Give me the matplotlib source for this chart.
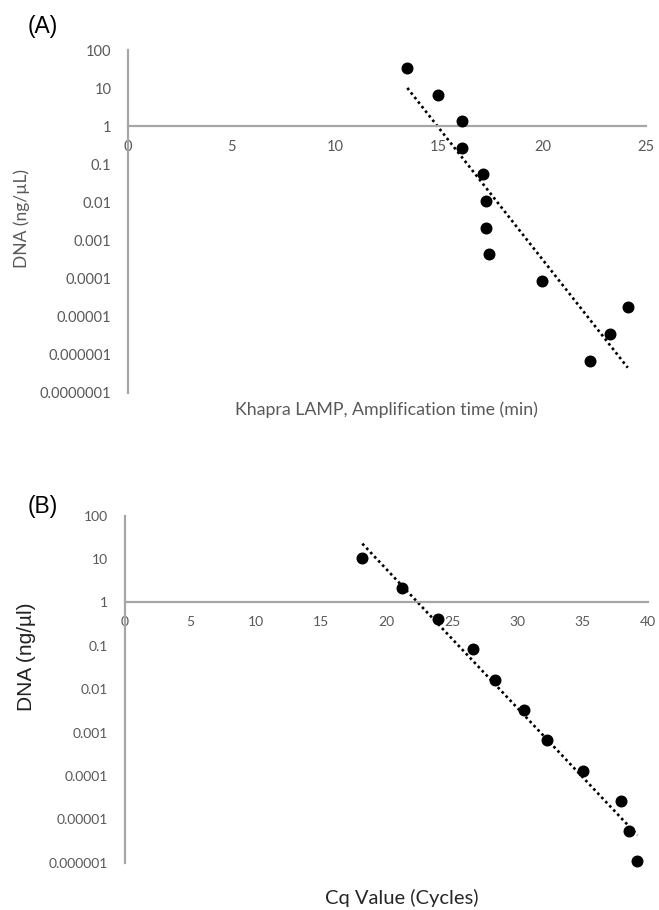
import numpy as np
import matplotlib.pyplot as plt
from matplotlib.ticker import FixedLocator, FixedFormatter

# panel A: Khapra LAMP amplification time vs DNA
lamp_time = [13.48, 14.98, 16.13, 16.13, 17.13, 17.26, 17.26, 17.42, 19.96, 24.12, 23.28, 22.28]
lamp_dna = [34, 6.7, 1.37, 0.27, 0.055, 0.011, 0.0022, 0.00044, 0.000087, 0.0000177, 0.0000035, 0.0000007]

# panel B: qPCR Cq vs DNA
cq_value = [18.14, 21.18, 23.96, 26.6, 28.26, 30.53, 32.24, 35.0, 37.9, 38.53, 39.17]
cq_dna = [10.5, 2.1, 0.41, 0.083, 0.0166, 0.0033, 0.00066, 0.000129, 0.0000263, 0.0000054, 0.00000107]

yticks_a = [1e2, 1e1, 1, 1e-1, 1e-2, 1e-3, 1e-4, 1e-5, 1e-6, 1e-7]
ylabels_a = ['100', '10', '1', '0.1', '0.01', '0.001', '0.0001', '0.00001', '0.000001', '0.0000001']
yticks_b = yticks_a[:-1]
ylabels_b = ylabels_a[:-1]
xticks_a = [0, 5, 10, 15, 20, 25]
xticks_b = [0, 5, 10, 15, 20, 25, 30, 35, 40]

AXIS_GRAY = '#a6a6a6'
TEXT_GRAY = '#595959'
TICK_FONT = 'Lato'


def setup_axis(ax, xticks, yticks, ylabels, tick_size):
    ax.set_yscale('log')
    ax.set_xlim(xticks[0], xticks[-1])
    ax.set_ylim(yticks[-1], yticks[0])
    for side in ['top', 'right']:
        ax.spines[side].set_visible(False)
    ax.spines['left'].set_position(('data', 0))
    ax.spines['bottom'].set_position(('data', 1))
    for side in ['left', 'bottom']:
        ax.spines[side].set_color(AXIS_GRAY)
        ax.spines[side].set_linewidth(1.6)
    ax.yaxis.set_major_locator(FixedLocator(yticks))
    ax.yaxis.set_major_formatter(FixedFormatter(ylabels))
    ax.yaxis.set_minor_locator(FixedLocator([]))
    ax.set_xticks(xticks)
    ax.set_xticklabels([str(t) for t in xticks])
    ax.tick_params(axis='both', length=0, labelcolor=TEXT_GRAY, labelsize=tick_size)
    ax.tick_params(axis='x', pad=10)
    ax.tick_params(axis='y', pad=12)
    for lab in ax.get_xticklabels() + ax.get_yticklabels():
        lab.set_fontfamily(TICK_FONT)
    ax.patch.set_visible(False)


def draw_points(ax, x, y):
    x = np.array(x)
    y = np.array(y)
    ax.scatter(x, y, s=58, color='black', zorder=3, clip_on=False)
    # exponential trendline, as Excel draws it
    coef = np.polyfit(x, np.log10(y), 1)
    xf = np.array([x.min(), x.max()])
    ax.plot(xf, 10 ** np.polyval(coef, xf), color='black', linestyle=(0, (1, 1.2)),
            linewidth=1.9, zorder=2, clip_on=False)


fig = plt.figure(figsize=(6.59, 9.10), dpi=100)

ax_a = fig.add_axes([128 / 659, 1 - 393 / 910, (646 - 128) / 659, 343 / 910])
setup_axis(ax_a, xticks_a, yticks_a, ylabels_a, 10.5)
draw_points(ax_a, lamp_time, lamp_dna)
fig.text(22 / 659, 1 - 219 / 910, 'DNA (ng/µL)', rotation=90, ha='center', va='center',
         color=TEXT_GRAY, fontsize=12.5, family=TICK_FONT)
fig.text(386 / 659, 1 - 410 / 910, 'Khapra LAMP, Amplification time (min)', ha='center', va='center',
         color=TEXT_GRAY, fontsize=12.8, family=TICK_FONT)
fig.text(43 / 659, 1 - 27 / 910, '(A)', ha='center', va='center', fontsize=16.5,
         family='Liberation Sans', color='black')

ax_b = fig.add_axes([125 / 659, 1 - 862.7 / 910, (648.3 - 125) / 659, 347 / 910])
setup_axis(ax_b, xticks_b, yticks_b, ylabels_b, 10)
draw_points(ax_b, cq_value, cq_dna)
fig.text(27 / 659, 1 - 657 / 910, 'DNA (ng/µl)', rotation=90, ha='center', va='center',
         color='#222222', fontsize=15, family='Liberation Sans')
fig.text(402 / 659, 1 - 898 / 910, 'Cq Value (Cycles)', ha='center', va='center',
         color='#262626', fontsize=14.5, family=TICK_FONT)
fig.text(43 / 659, 1 - 507 / 910, '(B)', ha='center', va='center', fontsize=16.5,
         family='Liberation Sans', color='black')

fig.savefig('out.png', dpi=100)
